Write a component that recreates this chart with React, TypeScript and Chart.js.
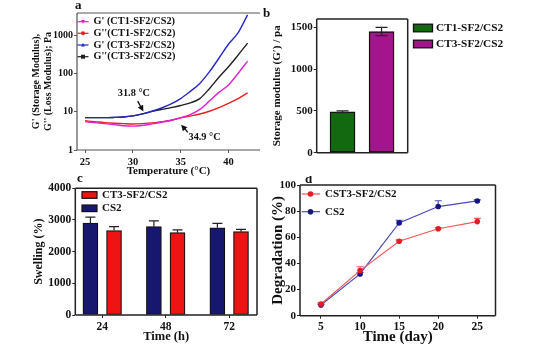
import React, { useEffect, useRef } from 'react';
import { Chart, registerables } from 'chart.js';
Chart.register(...registerables);

const FONT = '"Liberation Serif", "Times New Roman", serif';
const INK = '#111111';

// ---------- Panel a: rheology ----------
const temps = [25, 26, 27, 28, 29, 30, 31, 32, 33, 34, 35, 36, 37, 38, 39, 40, 41, 42];
const gStoreCT1 = [5.5, 5.2, 4.9, 4.6, 4.3, 4.2, 4.4, 4.8, 5.3, 5.9, 7.0, 8.4, 11.5, 19, 32, 50, 100, 210];
const gLossCT1 = [5.8, 5.5, 5.2, 5.0, 4.9, 4.8, 4.9, 5.1, 5.5, 6.0, 6.9, 7.7, 8.7, 10.3, 12.8, 16.5, 22, 31];
const gStoreCT3 = [7.0, 7.0, 7.0, 7.1, 7.3, 7.8, 8.8, 10.3, 12.5, 16, 22, 34, 55, 110, 250, 580, 1150, 3400];
const gLossCT3 = [7.0, 7.0, 7.0, 7.1, 7.3, 7.8, 8.8, 10.2, 11.5, 12.8, 14.5, 17, 22, 40, 80, 150, 300, 620];
const aXTicks = [25, 30, 35, 40];
const aYTicks = [1, 10, 100, 1000];
const aLegend = ["G' (CT1-SF2/CS2)", "G''(CT1-SF2/CS2)", "G' (CT3-SF2/CS2)", "G''(CT3-SF2/CS2)"];

// ---------- Panel b: storage modulus ----------
const bLabels = ['CT1-SF2/CS2', 'CT3-SF2/CS2'];
const bValues = [490, 1450];
const bErrors = [10, 50];
const bYTicks = [0, 500, 1000, 1500];

// ---------- Panel c: swelling ----------
const cTimes = ['24', '48', '72'];
const cCT3 = [2665, 2600, 2630];
const cCT3Err = [125, 85, 75];
const cCS2 = [2900, 2790, 2755];
const cCS2Err = [190, 180, 140];
const cYTicks = [0, 1000, 2000, 3000, 4000];

// ---------- Panel d: degradation ----------
const dDays = [5, 10, 15, 20, 25];
const dCST3 = [9, 34.5, 57, 66.5, 72];
const dCST3Err = [1, 3, 1, 1, 2.5];
const dCS2 = [8.2, 32, 71, 83.5, 87.8];
const dCS2Err = [0.5, 1, 2, 4.5, 0.8];
const dYTicks = [0, 20, 40, 60, 80, 100];

const font = (size: number, weight: any = 'bold') => ({ family: FONT, size, weight });

function fixedTicks(values: number[]) {
  return (s: any) => {
    s.ticks = values.map((v) => ({ value: v }));
  };
}

function errorPlugin(hook: string) {
  return {
    id: 'errorBars',
    [hook](chart: any) {
      const ctx = chart.ctx;
      chart.data.datasets.forEach((ds: any, i: number) => {
        const errs = ds.errors;
        if (!errs) return;
        const meta = chart.getDatasetMeta(i);
        const ys = chart.scales[meta.yAxisID];
        ctx.save();
        ctx.strokeStyle = ds.errorColor || '#111';
        ctx.lineWidth = ds.errorWidth || 1.2;
        meta.data.forEach((el: any, j: number) => {
          const raw = ds.data[j];
          const v = typeof raw === 'object' ? raw.y : raw;
          const x = el.x;
          const cap = ds.errorCap || 4;
          const yTop = ys.getPixelForValue(v + errs[j]);
          const yBot = ys.getPixelForValue(ds.errorBoth ? v - errs[j] : v);
          ctx.beginPath();
          ctx.moveTo(x, yTop);
          ctx.lineTo(x, yBot);
          ctx.moveTo(x - cap, yTop);
          ctx.lineTo(x + cap, yTop);
          if (ds.errorBoth) {
            ctx.moveTo(x - cap, yBot);
            ctx.lineTo(x + cap, yBot);
          }
          ctx.stroke();
        });
        ctx.restore();
      });
    },
  };
}

function frame(ctx: any, area: any, sides: string, color: string, width: number) {
  ctx.save();
  ctx.strokeStyle = color;
  ctx.lineWidth = width;
  ctx.beginPath();
  const { left, right, top, bottom } = area;
  if (sides.includes('t')) { ctx.moveTo(left, top); ctx.lineTo(right, top); }
  if (sides.includes('r')) { ctx.moveTo(right, top); ctx.lineTo(right, bottom); }
  if (sides.includes('b')) { ctx.moveTo(left, bottom); ctx.lineTo(right, bottom); }
  if (sides.includes('l')) { ctx.moveTo(left, top); ctx.lineTo(left, bottom); }
  ctx.stroke();
  ctx.restore();
}

function text(ctx: any, s: string, x: number, y: number, size: number, align: any = 'left', color = INK) {
  ctx.save();
  ctx.font = `bold ${size}px ${FONT}`;
  ctx.fillStyle = color;
  ctx.textAlign = align;
  ctx.textBaseline = 'middle';
  ctx.fillText(s, x, y);
  ctx.restore();
}

function arrow(ctx: any, x0: number, y0: number, x1: number, y1: number) {
  const a = Math.atan2(y1 - y0, x1 - x0);
  const hl = 6, hw = 3;
  const c = Math.cos(a), s = Math.sin(a);
  ctx.save();
  ctx.strokeStyle = INK;
  ctx.fillStyle = INK;
  ctx.lineWidth = 1.3;
  ctx.beginPath();
  ctx.moveTo(x0, y0);
  ctx.lineTo(x1 - hl * c * 0.7, y1 - hl * s * 0.7);
  ctx.stroke();
  ctx.beginPath();
  ctx.moveTo(x1, y1);
  ctx.lineTo(x1 - hl * c + hw * s, y1 - hl * s - hw * c);
  ctx.lineTo(x1 - hl * c - hw * s, y1 - hl * s + hw * c);
  ctx.closePath();
  ctx.fill();
  ctx.restore();
}

function marker(ctx: any, type: string, x: number, y: number, r: number, color: string) {
  ctx.save();
  ctx.fillStyle = color;
  ctx.beginPath();
  if (type === 'circle') ctx.arc(x, y, r, 0, Math.PI * 2);
  else if (type === 'rect') ctx.rect(x - r, y - r, 2 * r, 2 * r);
  else if (type === 'tri') { ctx.moveTo(x, y - r); ctx.lineTo(x + r, y + r * 0.8); ctx.lineTo(x - r, y + r * 0.8); ctx.closePath(); }
  else if (type === 'tridown') { ctx.moveTo(x, y + r); ctx.lineTo(x + r, y - r * 0.8); ctx.lineTo(x - r, y - r * 0.8); ctx.closePath(); }
  ctx.fill();
  ctx.restore();
}

const baseOptions = {
  animation: false as const,
  responsive: false,
  maintainAspectRatio: false,
  events: [] as any[],
};

const tickGrid = (color = '#333') => ({
  display: true,
  drawOnChartArea: false,
  drawTicks: true,
  offset: false,
  tickLength: 3,
  tickColor: color,
  tickWidth: 1,
});

// ---------------- builders ----------------
function buildA(canvas: HTMLCanvasElement) {
  const colors = ['#e01fd0', '#e62020', '#2828c4', '#202020'];
  const series = [gStoreCT1, gLossCT1, gStoreCT3, gLossCT3];
  const markers = ['tridown', 'circle', 'tri', 'rect'];
  return new Chart(canvas, {
    type: 'line',
    data: {
      datasets: series.map((arr, k) => ({
        label: aLegend[k],
        data: temps.map((t, i) => ({ x: t, y: arr[i] })),
        borderColor: colors[k],
        borderWidth: 1.4,
        pointRadius: 0,
        cubicInterpolationMode: 'monotone' as const,
        order: k === 2 ? 0 : k === 0 ? 1 : 2,
      })),
    },
    options: {
      ...baseOptions,
      layout: { padding: { left: 31, top: 13, right: 2, bottom: 4 } },
      plugins: { legend: { display: false }, tooltip: { enabled: false } },
      scales: {
        x: {
          type: 'linear', min: 24.15, max: 43.3,
          afterBuildTicks: fixedTicks(aXTicks),
          afterFit: (s: any) => { s.height = 28; },
          grid: tickGrid('#555'),
          border: { display: false },
          ticks: { font: font(10.5), color: INK, padding: 3, maxRotation: 0, callback: (v: any) => String(v) },
          title: { display: true, text: 'Temperature (°C)', font: font(11), color: INK, padding: 0 },
        },
        y: {
          type: 'logarithmic', min: 1, max: 3800,
          afterBuildTicks: fixedTicks(aYTicks),
          afterFit: (s: any) => { s.width = 46; },
          grid: tickGrid('#555'),
          border: { display: false },
          ticks: { font: font(10), color: INK, padding: 1, callback: (v: any) => String(v) },
          title: { display: true, text: ["G' (Storage Modulus),", "G'' (Loss Modulus); Pa"], font: { ...font(10), lineHeight: 1.15 }, color: INK, padding: 0 },
        },
      },
    } as any,
    plugins: [
      {
        id: 'aDecor',
        afterDraw(chart: any) {
          const ctx = chart.ctx;
          const xs = chart.scales.x, ys = chart.scales.y;
          frame(ctx, chart.chartArea, 'tlb', '#555', 1.2);
          const rows = [21.7, 33.3, 45, 56.7];
          rows.forEach((y, k) => {
            ctx.save();
            ctx.strokeStyle = colors[k];
            ctx.lineWidth = 1.2;
            ctx.beginPath(); ctx.moveTo(77.5, y); ctx.lineTo(88.5, y); ctx.stroke();
            ctx.restore();
            marker(ctx, markers[k], 83, y, 2, colors[k]);
            text(ctx, aLegend[k], 93.5, y, 10.3);
          });
          text(ctx, '31.8 °C', xs.getPixelForValue(30.1), ys.getPixelForValue(30.8), 10.3, 'center');
          arrow(ctx, xs.getPixelForValue(30.5), ys.getPixelForValue(19), xs.getPixelForValue(31.1), ys.getPixelForValue(10.2));
          text(ctx, '34.9 °C', xs.getPixelForValue(37.5), ys.getPixelForValue(2.2), 10.3, 'center');
          arrow(ctx, xs.getPixelForValue(35.75), ys.getPixelForValue(2.9), xs.getPixelForValue(35.05), ys.getPixelForValue(4.6));
          text(ctx, 'a', 75, 5.5, 13, 'left');
        },
      },
    ],
  });
}

function buildB(canvas: HTMLCanvasElement) {
  const colors = ['#12690f', '#a4148c'];
  return new Chart(canvas, {
    type: 'bar',
    data: {
      datasets: [
        {
          data: bValues.map((v, i) => ({ x: i + 1, y: v })),
          backgroundColor: colors,
          borderColor: '#111',
          borderWidth: 1.5,
          borderSkipped: false,
          barThickness: 25,
          grouped: false,
          errors: bErrors,
          errorBoth: true,
          errorCap: 6,
          errorColor: '#222',
        } as any,
      ],
    },
    options: {
      ...baseOptions,
      layout: { padding: { left: 9, top: 19, right: 146.3, bottom: 23.3 } },
      plugins: { legend: { display: false }, tooltip: { enabled: false } },
      scales: {
        x: { type: 'linear', min: 0.338, max: 2.67, offset: false, display: false },
        y: {
          type: 'linear', min: 0, max: 1600,
          afterBuildTicks: fixedTicks(bYTicks),
          afterFit: (s: any) => { s.width = 45.7; },
          grid: tickGrid('#222'),
          border: { display: false },
          ticks: { font: font(11), color: INK, padding: 1, callback: (v: any) => String(v) },
          title: { display: true, text: 'Storage modulus (G′) / pa', font: font(11), color: INK, padding: 0 },
        },
      },
    } as any,
    plugins: [
      errorPlugin('afterDatasetsDraw'),
      {
        id: 'bDecor',
        afterDraw(chart: any) {
          const ctx = chart.ctx;
          frame(ctx, chart.chartArea, 'tlbr', '#222', 1.5);
          const rows = [28, 44];
          rows.forEach((y, k) => {
            ctx.save();
            ctx.fillStyle = colors[k];
            ctx.strokeStyle = '#111';
            ctx.lineWidth = 1.3;
            ctx.fillRect(151.5, y - 3.8, 19, 7.6);
            ctx.strokeRect(151.5, y - 3.8, 19, 7.6);
            ctx.restore();
            text(ctx, bLabels[k], 174, y, 11.3);
          });
          text(ctx, 'b', 1, 13.5, 13, 'left');
        },
      },
    ],
  });
}

function buildC(canvas: HTMLCanvasElement) {
  const navy = '#171770', red = '#ee1414';
  return new Chart(canvas, {
    type: 'bar',
    data: {
      datasets: [
        {
          label: 'CS2',
          data: cCS2.map((v, i) => ({ x: i - 0.186, y: v })),
          backgroundColor: navy, borderColor: '#111', borderWidth: 1.2, borderSkipped: false,
          barThickness: 15, grouped: false, errors: cCS2Err, errorCap: 5, errorColor: '#222',
        } as any,
        {
          label: 'CT3-SF2/CS2',
          data: cCT3.map((v, i) => ({ x: i + 0.186, y: v })),
          backgroundColor: red, borderColor: '#111', borderWidth: 1.2, borderSkipped: false,
          barThickness: 15, grouped: false, errors: cCT3Err, errorCap: 5, errorColor: '#222',
        } as any,
      ],
    },
    options: {
      ...baseOptions,
      layout: { padding: { left: 32, top: 12.3, right: 5, bottom: 4.8 } },
      plugins: { legend: { display: false }, tooltip: { enabled: false } },
      scales: {
        x: {
          type: 'linear', min: -0.424, max: 2.438, offset: false,
          afterBuildTicks: fixedTicks([0, 1, 2]),
          afterFit: (s: any) => { s.height = 29.2; },
          grid: tickGrid('#222'),
          border: { display: false },
          ticks: { font: font(11.5), color: INK, padding: 2, maxRotation: 0, callback: (v: any) => cTimes[v] },
          title: { display: true, text: 'Time (h)', font: font(12.5), color: INK, padding: 0 },
        },
        y: {
          type: 'linear', min: 0, max: 4000,
          afterBuildTicks: fixedTicks(cYTicks),
          afterFit: (s: any) => { s.width = 43.3; },
          grid: tickGrid('#222'),
          border: { display: false },
          ticks: { font: font(11.5), color: INK, padding: 1, callback: (v: any) => String(v) },
          title: { display: true, text: 'Swelling (%)', font: font(12), color: INK, padding: 0 },
        },
      },
    } as any,
    plugins: [
      errorPlugin('afterDatasetsDraw'),
      {
        id: 'cDecor',
        afterDraw(chart: any) {
          const ctx = chart.ctx;
          frame(ctx, chart.chartArea, 'tlbr', '#222', 1.5);
          const rows: [number, string, string][] = [[19, red, 'CT3-SF2/CS2'], [32.3, navy, 'CS2']];
          rows.forEach(([y, col, lab]) => {
            ctx.save();
            ctx.fillStyle = col;
            ctx.strokeStyle = '#111';
            ctx.lineWidth = 1.2;
            ctx.fillRect(82, y - 3.3, 15, 6.6);
            ctx.strokeRect(82, y - 3.3, 15, 6.6);
            ctx.restore();
            text(ctx, lab, 102, y, 11);
          });
          text(ctx, 'c', 77, 2.5, 13, 'left');
        },
      },
    ],
  });
}

function buildD(canvas: HTMLCanvasElement) {
  const redLine = '#f05858', redPt = '#e41c24';
  const blueLine = '#4a4ab8', bluePt = '#151585';
  return new Chart(canvas, {
    type: 'line',
    data: {
      datasets: [
        {
          label: 'CST3-SF2/CS2',
          data: dDays.map((d, i) => ({ x: d, y: dCST3[i] })),
          borderColor: redLine, borderWidth: 1.2, pointRadius: 2.8,
          pointBackgroundColor: redPt, pointBorderColor: redPt, pointBorderWidth: 0,
          errors: dCST3Err, errorCap: 3.5, errorColor: redLine, errorWidth: 1.1,
        } as any,
        {
          label: 'CS2',
          data: dDays.map((d, i) => ({ x: d, y: dCS2[i] })),
          borderColor: blueLine, borderWidth: 1.2, pointRadius: 2.8,
          pointBackgroundColor: bluePt, pointBorderColor: bluePt, pointBorderWidth: 0,
          errors: dCS2Err, errorCap: 3.5, errorColor: blueLine, errorWidth: 1.1,
        } as any,
      ],
    },
    options: {
      ...baseOptions,
      layout: { padding: { left: 7.3, top: 9, right: 58.5, bottom: 3.3 } },
      plugins: { legend: { display: false }, tooltip: { enabled: false } },
      scales: {
        x: {
          type: 'linear', min: 2.313, max: 27.33,
          afterBuildTicks: fixedTicks(dDays),
          afterFit: (s: any) => { s.height = 30; },
          grid: tickGrid('#222'),
          border: { display: false },
          ticks: { font: font(11.5), color: INK, padding: 1, maxRotation: 0, callback: (v: any) => String(v) },
          title: { display: true, text: 'Time (day)', font: font(15), color: INK, padding: 0 },
        },
        y: {
          type: 'linear', min: 0, max: 100,
          afterBuildTicks: fixedTicks(dYTicks),
          afterFit: (s: any) => { s.width = 30.7; },
          grid: tickGrid('#222'),
          border: { display: false },
          ticks: { font: font(11), color: INK, padding: 1, callback: (v: any) => String(v) },
          title: { display: true, text: 'Degradation (%)', font: font(15), color: INK, padding: 0 },
        },
      },
    } as any,
    plugins: [
      errorPlugin('beforeDatasetsDraw'),
      {
        id: 'dDecor',
        afterDraw(chart: any) {
          const ctx = chart.ctx;
          frame(ctx, chart.chartArea, 'tlbr', '#222', 1.5);
          const rows: [number, string, string, string][] = [
            [18, redLine, redPt, 'CST3-SF2/CS2'],
            [35.7, blueLine, bluePt, 'CS2'],
          ];
          rows.forEach(([y, lc, pc, lab]) => {
            ctx.save();
            ctx.strokeStyle = lc;
            ctx.lineWidth = 1.2;
            ctx.beginPath(); ctx.moveTo(39.7, y); ctx.lineTo(58, y); ctx.stroke();
            ctx.restore();
            marker(ctx, 'circle', 48.5, y, 2.8, pc);
            text(ctx, lab, 63, y, 11);
          });
          text(ctx, 'd', 43, 3.5, 13, 'left');
        },
      },
    ],
  });
}

function Panel(props: { left: number; top: number; width: number; height: number; build: (c: HTMLCanvasElement) => Chart }) {
  const ref = useRef<HTMLCanvasElement>(null);
  useEffect(() => {
    const chart = props.build(ref.current as HTMLCanvasElement);
    return () => chart.destroy();
  }, []);
  return (
    <canvas
      ref={ref}
      width={props.width}
      height={props.height}
      style={{ position: 'absolute', left: props.left, top: props.top, width: props.width, height: props.height }}
    />
  );
}

export default function App() {
  return (
    <div style={{ position: 'fixed', left: 0, top: 0, width: 554, height: 349, background: '#ffffff', overflow: 'hidden' }}>
      <Panel left={0} top={0} width={262} height={182} build={buildA} />
      <Panel left={262} top={0} width={292} height={176} build={buildB} />
      <Panel left={0} top={176} width={262} height={173} build={buildC} />
      <Panel left={262} top={176} width={292} height={173} build={buildD} />
    </div>
  );
}
